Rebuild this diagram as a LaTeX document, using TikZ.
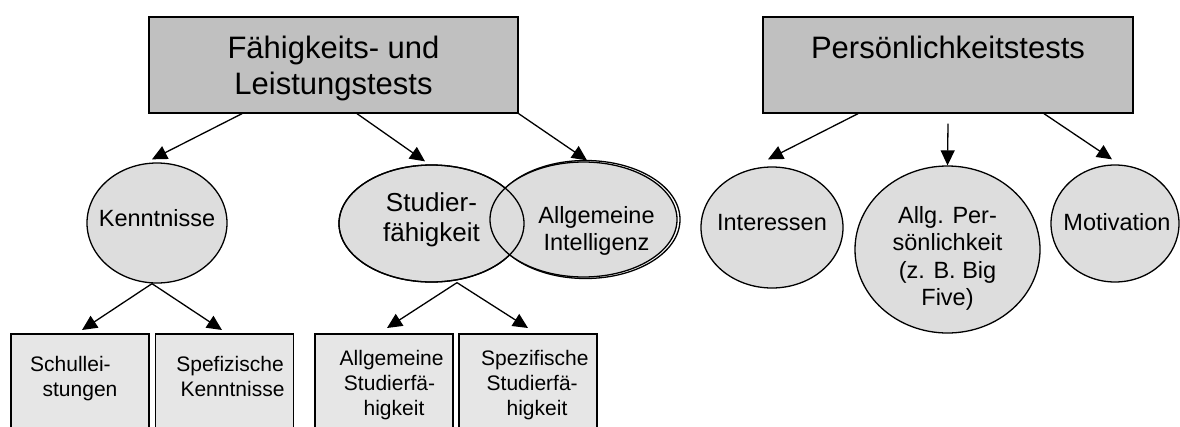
\documentclass[tikz,border=0pt]{standalone}
\usepackage{fontspec}
\setmainfont{Liberation Sans}
\usetikzlibrary{shapes.geometric,arrows.meta}
\definecolor{topgray}{HTML}{C0C0C0}
\definecolor{ellgray}{HTML}{DDDDDD}
\definecolor{boxgray}{HTML}{E6E6E6}
\newcommand\bottomtext[3]{\parbox[c][110pt][t]{138pt}{\fontsize{21}{25}\selectfont\leftskip=#1 plus 1fil\rightskip=0pt plus 1fil\parfillskip=0pt\rule{0pt}{#2}#3}}
\begin{document}
\begin{tikzpicture}[x=1pt, y=-1pt, line width=1.3pt,
  topbox/.style={draw, fill=topgray, minimum width=369pt, minimum height=96pt, inner sep=0pt, align=center, font=\fontsize{31}{36}\selectfont},
  oval/.style={ellipse, draw, fill=ellgray, inner sep=0pt},
  ovaltext/.style={align=center, inner sep=0pt, font=\fontsize{23.5}{27}\selectfont},
  subbox/.style={draw, fill=boxgray, inner sep=0pt, anchor=north, line width=1.5pt},
  arr/.style={-{Triangle[length=15pt,width=14pt]}}]
\useasboundingbox (0,0) rectangle (1180,426);
\clip (0,0) rectangle (1180,426);
% top boxes
\node[topbox] (b1) at (333.5,65) {\rule{0pt}{28.6pt}Fähigkeits- und\\Leistungstests};
\node[topbox, minimum width=370pt] (b2) at (948,65) {Persönlichkeitstests\\~};
% ellipses left
\node[oval, minimum width=140pt, minimum height=120pt] (kn) at (157,223) {};
\node[ovaltext] (knt) at (157,218) {Kenntnisse};
\node[oval, minimum width=185pt, minimum height=117pt] (st) at (431.5,223.5) {};
\draw[fill=none] (585.5,219.5) ellipse [x radius=94.5, y radius=59];
\node[oval, minimum width=187pt, minimum height=115pt] (ai) at (583.5,219.5) {};
\draw (st.center) ellipse [x radius=92.5, y radius=58.5];
\node[ovaltext, font=\fontsize{26}{30}\selectfont] (stt) at (431.5,219.7) {Studier-\\fähigkeit};
\node[ovaltext] (ait) at (596.5,231) {Allgemeine\\Intelligenz};
% ellipses right
\node[oval, minimum width=142pt, minimum height=121pt] (in) at (772,227.5) {};
\node[ovaltext] (int) at (772,223) {Interessen};
\node[oval, minimum width=185pt, minimum height=167pt] (pe) at (947.5,249.5) {};
\node[ovaltext, font=\fontsize{23.5}{27.3}\selectfont] (pet) at (947.5,258.5) {Allg. Per-\\sönlichkeit\\(z. B. Big\\Five)};
\node[oval, minimum width=128pt, minimum height=117pt] (mo) at (1115,223.5) {};
\node[ovaltext] (mot) at (1117,222) {Motivation};
% bottom boxes
\node[subbox] (s1) at (80,333) {\bottomtext{0pt}{37.5pt}{Schullei-\\stungen}};
\node[subbox] (s2) at (224.5,333) {\bottomtext{16pt}{37.5pt}{Spefizische\\Kenntnisse}};
\node[subbox] (s3) at (384,333) {\bottomtext{20pt}{31.5pt}{Allgemeine\\Studierfä-\\higkeit}};
\node[subbox] (s4) at (528,333) {\bottomtext{18pt}{31.5pt}{Spezifische\\Studierfä-\\higkeit}};
% arrows from top boxes
\draw[arr] ([xshift=-91.5pt]b1.south) -- ([xshift=-5pt,yshift=3pt]kn.north);
\draw[arr] ([xshift=23.5pt]b1.south) -- ([xshift=-6.5pt,yshift=3pt]st.north);
\draw[arr] (b1.south east) -- ([xshift=3.5pt,yshift=1pt]ai.north);
\draw[arr] ([xshift=-90pt]b2.south) -- ([xshift=-4pt,yshift=7pt]in.north);
\coordinate (pstart) at ([yshift=-10pt]b2.south);
\draw[arr] (pstart) -- (pe.north);
\draw[arr] ([xshift=96pt]b2.south) -- ([xshift=-3pt,yshift=5pt]mo.north);
% arrows to bottom boxes
\draw[arr] ([xshift=-5pt]kn.south) -- ([xshift=2pt,yshift=3pt]s1.north);
\draw[arr] ([xshift=-5pt]kn.south) -- ([xshift=-2.5pt,yshift=3pt]s2.north);
\draw[arr] ([xshift=25.5pt]st.south) -- ([xshift=3pt,yshift=5pt]s3.north);
\draw[arr] ([xshift=25.5pt]st.south) -- ([yshift=5pt]s4.north);
\end{tikzpicture}
\end{document}
